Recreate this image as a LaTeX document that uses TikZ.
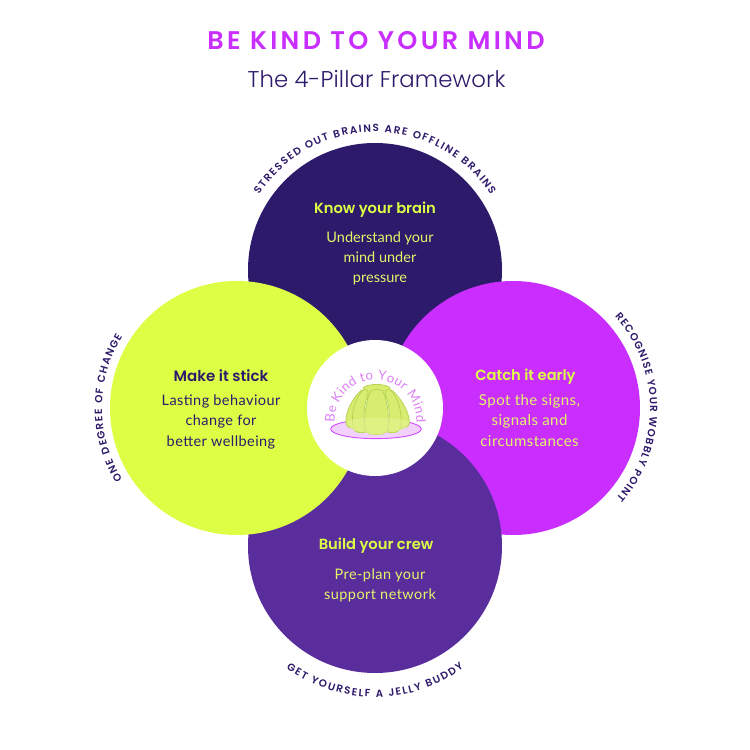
\documentclass[tikz,border=0pt]{standalone}
\usepackage{fontspec}
\usetikzlibrary{decorations.text}
\newfontfamily\popm{Poppins}[UprightFont=* SemiBold]
\newfontfamily\popsb{Poppins}[UprightFont=* SemiBold]
\newfontfamily\ttl{Poppins}[UprightFont=* SemiBold,LetterSpace=13]
\newfontfamily\sub{Poppins}[UprightFont=* Light,LetterSpace=0.5]
\newfontfamily\body{Lato}[LetterSpace=3]
\newfontfamily\bodyt{Lato}
\newfontfamily\logo{Lato}
\definecolor{deep}{HTML}{2E1A6B}
\definecolor{plum}{HTML}{5A2D9C}
\definecolor{mag}{HTML}{C92EFF}
\definecolor{lime}{HTML}{DCFF45}
\definecolor{limet}{HTML}{E2F56A}
\definecolor{logoc}{HTML}{DD80F5}
\definecolor{jel}{HTML}{D8EC70}
\definecolor{jellow}{HTML}{E6F694}
\definecolor{jels}{HTML}{B2D350}
\tikzset{
  pillar/.style={circle,minimum size=254pt,inner sep=0pt},
  head/.style={font={\popsb\fontsize{14.7}{17}\selectfont}},
  txt/.style={font={\body\fontsize{14.5}{20.5}\selectfont},align=center},
  lobe/.style={fill=jel,draw=jels,line width=0.7pt},
  arctext/.style={decorate,decoration={text along path,text align={fit to path},text={|\popm\fontsize{10.4}{13}\selectfont\color{deep}|#1}}}
}
\begin{document}
\begin{tikzpicture}[x=1pt,y=1pt]
\useasboundingbox[fill=white] (0,0) rectangle (750,750);
\node[font={\ttl\fontsize{25.5}{28}\selectfont},text=mag] (title) at (376,709) {BE KIND TO YOUR MIND};
\node[font={\sub\fontsize{22.8}{28}\selectfont},text=deep] (subtitle) at (376.5,671) {The 4-Pillar Framework};

\node[pillar,fill=deep] (know) at (375,480) {};
\node[pillar,fill=mag] (catch) at (513,342) {};
\node[pillar,fill=plum] (crew) at (375,204) {};
\node[pillar,fill=lime] (stick) at (237,342) {};
\node[circle,fill=white,minimum size=136pt,inner sep=0pt] (hub) at (375,342) {};

\node[head,text=lime] (h1) at (375,540) {Know your brain};
\node[txt,font={\bodyt\fontsize{14.5}{20}\selectfont},text=limet] (t1) at (380,491.5) {Understand your\\mind under\\pressure};
\node[head,text=lime] (h2) at (525.5,373.5) {Catch it early};
\node[txt,font={\body\fontsize{15}{20.5}\selectfont},text=limet] (t2) at (529.5,329.5) {Spot the signs,\\signals and\\circumstances};
\node[head,text=lime] (h3) at (376,204) {Build your crew};
\node[txt,text=limet] (t3) at (380,164.5) {Pre-plan your\\support network};
\node[head,font={\popsb\fontsize{15}{17}\selectfont},text=deep] (h4) at (221,374) {Make it stick};
\node[txt,text=deep] (t4) at (221,328.5) {Lasting behaviour\\change for\\better wellbeing};

\path[arctext={STRESSED OUT BRAINS ARE OFFLINE BRAINS}] (375,480) ++(147:138) arc[start angle=147,end angle=33,radius=138];
\path[arctext={RECOGNISE YOUR WOBBLY POINT}] (513,342) ++(42:137) arc[start angle=42,end angle=-41,radius=137];
\path[arctext={GET YOURSELF A JELLY BUDDY}] (375,204) ++(234:151) arc[start angle=234,end angle=306,radius=151];
\path[arctext={ONE DEGREE OF CHANGE}] (237,342) ++(212:135) arc[start angle=212,end angle=148,radius=135];

% logo
\begin{scope}[shift={(330,375)},x=0.3333pt,y=-0.3333pt]
\fill[fill=mag!22,draw=mag!85,line width=0.9pt] (138,162) ellipse [x radius=136,y radius=29];
\draw[lobe] (95,45) .. controls (65,70) and (45,115) .. (48,145) .. controls (50,158) and (65,162) .. (85,160) -- (100,60) -- cycle;
\draw[lobe] (185,45) .. controls (215,70) and (240,115) .. (238,145) .. controls (236,158) and (220,162) .. (195,160) -- (180,60) -- cycle;
\draw[lobe] (100,38) .. controls (115,25) and (165,25) .. (180,38) -- (180,70) -- (100,70) -- cycle;
\draw[lobe] (100,45) .. controls (120,40) and (115,55) .. (110,70) .. controls (100,100) and (100,140) .. (105,172) .. controls (90,176) and (75,172) .. (70,160) .. controls (62,120) and (72,70) .. (100,45) -- cycle;
\draw[lobe] (180,45) .. controls (160,40) and (165,55) .. (170,70) .. controls (180,100) and (180,140) .. (175,172) .. controls (190,176) and (205,172) .. (212,160) .. controls (218,120) and (208,70) .. (180,45) -- cycle;
\draw[lobe] (122,48) .. controls (130,42) and (150,42) .. (158,48) .. controls (172,75) and (180,130) .. (172,168) .. controls (160,182) and (118,182) .. (106,168) .. controls (100,130) and (108,75) .. (122,48) -- cycle;
\fill[jellow,opacity=0.55] (50,138) .. controls (90,125) and (190,125) .. (238,138) .. controls (236,158) and (215,172) .. (172,170) .. controls (160,182) and (118,182) .. (106,172) .. controls (75,172) and (52,158) .. (50,138) -- cycle;
\end{scope}
\path[decorate,decoration={text along path,text align={fit to path},text={|\logo\fontsize{13.2}{16}\selectfont\color{logoc}|Be Kind to Your Mind}}] (375.5,329) ++(182:41) arc[start angle=182,end angle=-2,radius=41];
\end{tikzpicture}
\end{document}
